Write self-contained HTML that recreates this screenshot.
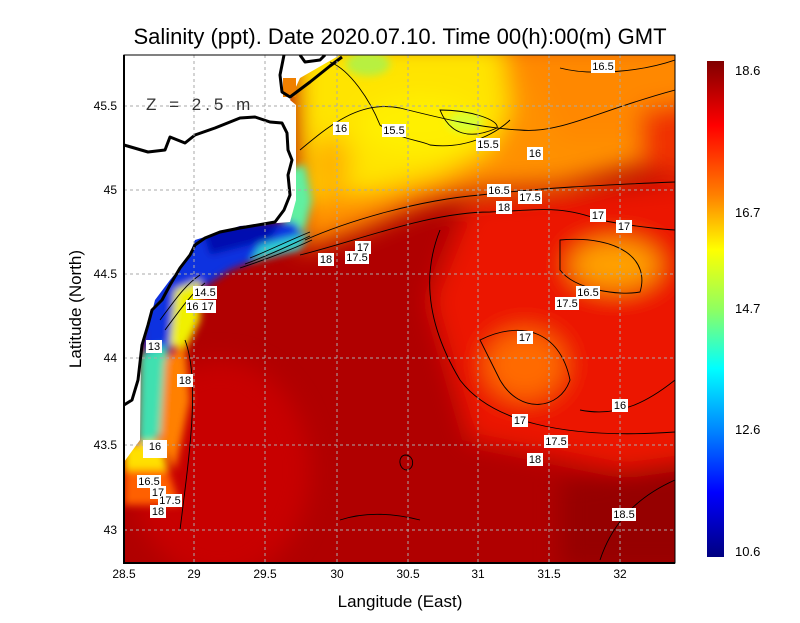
<!DOCTYPE html>
<html><head><meta charset="utf-8"><style>
body{margin:0;background:#fff;width:800px;height:618px;overflow:hidden}
svg{font-family:"Liberation Sans",sans-serif}
</style></head><body>
<svg width="800" height="618" viewBox="0 0 800 618">
<defs>
<filter id="b" filterUnits="userSpaceOnUse" x="0" y="0" width="800" height="618"><feGaussianBlur stdDeviation="12"/></filter>
<filter id="b2" filterUnits="userSpaceOnUse" x="0" y="0" width="800" height="618"><feGaussianBlur stdDeviation="4"/></filter>
<linearGradient id="cb" x1="0" y1="0" x2="0" y2="1">
<stop offset="0" stop-color="#800000"/><stop offset="0.13" stop-color="#ff0000"/>
<stop offset="0.27" stop-color="#ff8000"/><stop offset="0.38" stop-color="#ffff00"/>
<stop offset="0.5" stop-color="#90ff60"/><stop offset="0.62" stop-color="#00ffff"/>
<stop offset="0.75" stop-color="#0080ff"/><stop offset="0.87" stop-color="#0000ff"/>
<stop offset="1" stop-color="#000080"/></linearGradient>
<clipPath id="pc"><rect x="124" y="55" width="551" height="508"/></clipPath>
</defs>
<text x="400" y="44" font-size="22" text-anchor="middle">Salinity (ppt). Date 2020.07.10. Time 00(h):00(m)  GMT</text>
<g clip-path="url(#pc)">
<rect x="124" y="55" width="551" height="508" fill="#b00000"/>
<g filter="url(#b)">
<ellipse cx="220" cy="470" rx="90" ry="110" fill="#c80600"/>
<polygon points="470,200 700,180 700,470 620,470 470,440 430,300" fill="#ec1800"/>
<polygon points="290,40 700,40 700,150 620,170 560,185 480,190 420,205 360,230 300,250" fill="#ff9000"/>
<polygon points="500,40 700,40 700,120 650,140 560,140 540,90" fill="#ff8800"/>
<polygon points="640,110 700,100 700,180 640,170" fill="#f03000"/>
<polygon points="300,40 500,40 510,110 490,150 440,175 380,190 340,195 300,200" fill="#ffe400"/>
<ellipse cx="420" cy="125" rx="60" ry="30" fill="#fff000"/>
<ellipse cx="330" cy="165" rx="20" ry="30" fill="#ffb000"/>
<ellipse cx="615" cy="265" rx="45" ry="25" fill="#ffa000"/>
<ellipse cx="525" cy="365" rx="40" ry="35" fill="#ff6a00"/>
<polygon points="560,480 700,460 700,570 560,570" fill="#960000"/>
</g>
<g filter="url(#b2)">
<ellipse cx="368" cy="64" rx="22" ry="12" fill="#b8f040"/>
<ellipse cx="465" cy="122" rx="18" ry="10" fill="#d8ff30"/>
<polygon points="285,170 305,165 312,200 305,230 285,230" fill="#60f0a0"/>
<polygon points="190,225 295,222 305,240 270,255 230,270 200,290 185,320 175,345 160,360 145,355 140,310 160,280 180,250" fill="#1030e0"/>
<polygon points="200,222 280,222 270,240 210,255" fill="#0010b0"/>
<polygon points="260,245 310,232 300,250 250,262" fill="#30d0d0"/>
<polygon points="140,355 165,345 175,380 165,430 150,445 138,440" fill="#40e0b0"/>
<polygon points="175,290 200,280 200,320 185,350 170,345" fill="#f0f000"/>
<polygon points="124,445 160,440 168,470 124,472" fill="#ffe000"/>
<polygon points="124,470 168,470 180,505 124,505" fill="#ff6000"/>
<polygon points="165,360 185,345 190,400 175,470 160,440" fill="#ff8000"/>
</g>
<polygon points="124,55 340,55 300,78 290,100 296,105 296,200 290,222 240,226 195,240 188,258 170,280 155,300 150,320 141,345 140,440 124,462" fill="#fff"/>
<rect x="283" y="78" width="13" height="19" fill="#f08000"/>
<g fill="none" stroke="#000" stroke-width="3" stroke-linejoin="round">
<polyline points="124,145 148,152 165,150 170,137 185,143 195,135 215,128 240,118 255,117 270,122 282,123 287,133 288,150 292,160 288,175 290,195 284,210 275,222 240,228 220,232 205,238 195,245 190,255 180,268 170,285 162,300 152,310 148,325 142,345 138,380 132,400 124,405"/>
<polyline points="284,55 280,75 282,92 290,97 310,82 330,66 342,57"/>
<polyline points="300,55 305,62 320,60 325,55"/>
</g>
<g fill="none" stroke="#000" stroke-width="0.9">
<path d="M300,150 C330,125 360,100 400,108 C440,118 480,128 520,130 C560,134 600,110 675,90"/>
<path d="M330,62 C350,70 370,100 380,125 C400,140 420,140 430,145 C470,150 500,130 510,120"/>
<path d="M440,110 C470,110 500,120 497,128 C470,140 450,135 440,110Z"/>
<path d="M560,68 C590,76 640,72 675,60"/>
<path d="M305,240 C350,220 420,200 480,195 C540,188 600,185 675,182"/>
<path d="M300,255 C360,240 430,212 490,212 C540,210 560,205 600,220 C640,228 675,230 675,230"/>
<path d="M440,230 C420,280 430,330 460,380 C490,420 560,440 675,432"/>
<path d="M560,240 C620,235 650,260 640,292 C620,296 575,290 560,270 Z"/>
<path d="M480,340 C520,320 560,330 570,380 C560,410 520,415 500,380 Z"/>
<path d="M580,410 C620,418 650,400 675,380"/>
<path d="M600,560 C610,530 630,500 675,480"/>
<path d="M340,520 C370,510 400,515 420,520"/>
<path d="M185,340 C200,380 190,450 180,530"/>
<path d="M405,455 C415,455 415,470 406,470 C398,468 398,456 405,455Z"/>
<path d="M250,258 C270,250 290,240 310,232 M245,264 C270,255 290,245 310,236 M240,268 C270,258 295,248 312,240"/>
<path d="M160,320 C175,300 185,285 200,275 M165,330 C180,310 190,295 205,283"/>
</g>
<g stroke="#aaa" stroke-width="1" stroke-dasharray="3,3">
<line x1="194" y1="55" x2="194" y2="563"/><line x1="265" y1="55" x2="265" y2="563"/><line x1="337" y1="55" x2="337" y2="563"/><line x1="408" y1="55" x2="408" y2="563"/><line x1="478" y1="55" x2="478" y2="563"/><line x1="549" y1="55" x2="549" y2="563"/><line x1="620" y1="55" x2="620" y2="563"/>
<line x1="124" y1="106" x2="675" y2="106"/><line x1="124" y1="190" x2="675" y2="190"/><line x1="124" y1="274" x2="675" y2="274"/><line x1="124" y1="358" x2="675" y2="358"/><line x1="124" y1="445" x2="675" y2="445"/><line x1="124" y1="530" x2="675" y2="530"/>
</g>
<g font-size="11" text-anchor="middle">
<g fill="#fff"><rect x="591" y="60" width="24" height="13"/><rect x="333" y="122" width="16" height="13"/><rect x="382" y="124" width="24" height="13"/><rect x="476" y="138" width="24" height="13"/><rect x="527" y="147" width="16" height="13"/><rect x="487" y="184" width="24" height="13"/><rect x="518" y="191" width="24" height="13"/><rect x="496" y="201" width="16" height="13"/><rect x="590" y="209" width="16" height="13"/><rect x="616" y="220" width="16" height="13"/><rect x="355" y="241" width="16" height="13"/><rect x="345" y="251" width="24" height="13"/><rect x="318" y="253" width="16" height="13"/><rect x="576" y="286" width="24" height="13"/><rect x="555" y="297" width="24" height="13"/><rect x="517" y="331" width="16" height="13"/><rect x="146" y="340" width="16" height="13"/><rect x="177" y="374" width="16" height="13"/><rect x="612" y="399" width="16" height="13"/><rect x="512" y="414" width="16" height="13"/><rect x="544" y="435" width="24" height="13"/><rect x="527" y="453" width="16" height="13"/><rect x="137" y="475" width="24" height="13"/><rect x="150" y="486" width="16" height="13"/><rect x="158" y="494" width="24" height="13"/><rect x="150" y="505" width="16" height="13"/><rect x="612" y="508" width="24" height="13"/><rect x="193" y="286" width="24" height="13"/><rect x="186" y="300" width="30" height="13"/><rect x="143" y="440" width="24" height="18"/></g>
<text x="603" y="70">16.5</text><text x="341" y="132">16</text><text x="394" y="134">15.5</text><text x="488" y="148">15.5</text><text x="535" y="157">16</text><text x="499" y="194">16.5</text><text x="530" y="201">17.5</text><text x="504" y="211">18</text><text x="598" y="219">17</text><text x="624" y="230">17</text><text x="363" y="251">17</text><text x="357" y="261">17.5</text><text x="326" y="263">18</text><text x="588" y="296">16.5</text><text x="567" y="307">17.5</text><text x="525" y="341">17</text><text x="154" y="350">13</text><text x="185" y="384">18</text><text x="620" y="409">16</text><text x="520" y="424">17</text><text x="556" y="445">17.5</text><text x="535" y="463">18</text><text x="149" y="485">16.5</text><text x="158" y="496">17</text><text x="170" y="504">17.5</text><text x="158" y="515">18</text><text x="624" y="518">18.5</text><text x="205" y="296">14.5</text><text x="200" y="310">16 17</text><text x="155" y="450">16</text>
</g>
</g>
<text x="146" y="110" font-size="17" fill="#333" letter-spacing="4">Z = 2.5 m</text>
<rect x="124" y="55" width="551" height="508" fill="none" stroke="#000" stroke-width="1"/>
<line x1="124" y1="55" x2="124" y2="564" stroke="#000" stroke-width="2"/>
<line x1="123" y1="563" x2="675" y2="563" stroke="#000" stroke-width="2"/>
<g font-size="12" text-anchor="middle">
<text x="124" y="578">28.5</text><text x="194" y="578">29</text><text x="265" y="578">29.5</text><text x="337" y="578">30</text><text x="408" y="578">30.5</text><text x="478" y="578">31</text><text x="549" y="578">31.5</text><text x="620" y="578">32</text>
</g>
<g font-size="12" text-anchor="end">
<text x="117" y="110">45.5</text><text x="117" y="194">45</text><text x="117" y="278">44.5</text><text x="117" y="362">44</text><text x="117" y="449">43.5</text><text x="117" y="534">43</text>
</g>
<text x="400" y="607" font-size="17" text-anchor="middle">Langitude (East)</text>
<text transform="translate(81,309) rotate(-90)" font-size="17" text-anchor="middle">Latitude (North)</text>
<rect x="707" y="61" width="17" height="496" fill="url(#cb)"/>
<g font-size="13">
<text x="735" y="75">18.6</text><text x="735" y="217">16.7</text><text x="735" y="313">14.7</text><text x="735" y="434">12.6</text><text x="735" y="556">10.6</text>
</g>
</svg>
</body></html>
